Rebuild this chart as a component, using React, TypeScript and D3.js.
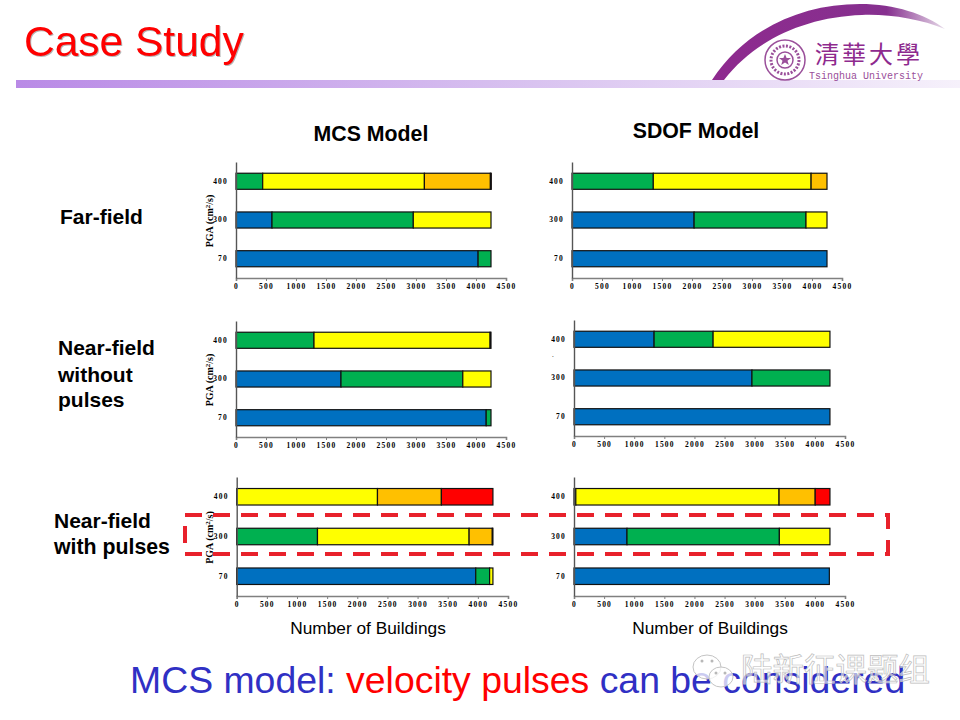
import React, { useEffect, useRef } from 'react'
import * as d3 from 'd3'

const rows = ['400', '300', '70']
const xTicks = [0, 500, 1000, 1500, 2000, 2500, 3000, 3500, 4000, 4500]
const stateColors = ['#0070c0', '#00b050', '#ffff00', '#ffc000', '#ff0000']

// building counts per damage state, one array per state, order follows rows
const mcsFar = [[0, 600, 4035], [445, 2355, 215], [2695, 1295, 0], [1100, 0, 0], [15, 0, 0]]
const sdofFar = [[0, 2035, 4250], [1355, 1865, 0], [2630, 350, 0], [265, 0, 0], [0, 0, 0]]
const mcsNear = [[0, 1750, 4170], [1300, 2030, 80], [2935, 470, 0], [15, 0, 0], [0, 0, 0]]
const sdofNear = [[1330, 2955, 4250], [980, 1295, 0], [1940, 0, 0], [0, 0, 0], [0, 0, 0]]
const mcsPulse = [[0, 0, 3965], [0, 1340, 230], [2335, 2515, 55], [1060, 385, 0], [855, 10, 0]]
const sdofPulse = [[0, 880, 4240], [30, 2530, 0], [3375, 840, 0], [600, 0, 0], [245, 0, 0]]

const panels = [
  { counts: mcsFar, left: 236, right: 506, top: 162, bottom: 278, yLabel: true },
  { counts: sdofFar, left: 572, right: 842, top: 162, bottom: 278, yLabel: false },
  { counts: mcsNear, left: 236, right: 506, top: 321, bottom: 437, yLabel: true },
  { counts: sdofNear, left: 574, right: 845, top: 320, bottom: 436, yLabel: false },
  { counts: mcsPulse, left: 236.7, right: 508, top: 477, bottom: 596, yLabel: true },
  { counts: sdofPulse, left: 574, right: 845, top: 477, bottom: 596, yLabel: false }
]

const SANS = '"Liberation Sans", Arial, sans-serif'
const SERIF = '"Liberation Serif", serif'

export default function App() {
  const chartRef = useRef<SVGGElement>(null)

  useEffect(() => {
    if (!chartRef.current) return
    const root = d3.select(chartRef.current)
    root.selectAll('*').remove() // Clear previous renders

    panels.forEach(p => {
      const g = root.append('g')
      const x = d3.scaleLinear().domain([0, 4500]).range([p.left, p.right])
      const y = d3.scaleBand().domain(rows).range([p.top, p.bottom]).paddingInner(0.585).paddingOuter(0.29)

      // stack the states along x
      const table = rows.map((r, i) => {
        const rec: Record<string, number | string> = { row: r }
        p.counts.forEach((c, s) => { rec['s' + s] = c[i] })
        return rec
      })
      const stack = d3.stack<any>().keys(p.counts.map((_, s) => 's' + s))(table)

      stack.forEach((layer, s) => {
        g.append('g')
          .selectAll('rect')
          .data(layer.filter(d => d[1] > d[0]))
          .join('rect')
          .attr('x', d => x(d[0]))
          .attr('y', d => y(d.data.row as string)!)
          .attr('width', d => x(d[1]) - x(d[0]))
          .attr('height', y.bandwidth())
          .attr('fill', stateColors[s])
          .attr('stroke', '#111')
          .attr('stroke-width', 1.2)
      })

      // x axis
      const xAxis = g.append('g')
        .attr('transform', `translate(0,${p.bottom})`)
        .call(d3.axisBottom(x).tickValues(xTicks).tickSizeOuter(0).tickSize(3).tickFormat(d3.format('d') as any))
      xAxis.select('.domain').attr('stroke', '#808080').attr('stroke-width', 1.6)
      xAxis.selectAll('.tick line').attr('stroke', '#808080')
      xAxis.selectAll('text')
        .attr('dy', 0).attr('y', 11)
        .style('font-family', SERIF).style('font-size', '7.5px').style('font-weight', 'bold')
        .style('letter-spacing', '1.2px').attr('fill', '#000')

      // y axis
      const yAxis = g.append('g')
        .attr('transform', `translate(${p.left},0)`)
        .call(d3.axisLeft(y).tickSize(0).tickPadding(8))
      yAxis.select('.domain').attr('stroke', '#555').attr('stroke-width', 1.4)
      yAxis.selectAll('text')
        .style('font-family', SERIF).style('font-size', '7.5px').style('font-weight', 'bold')
        .style('letter-spacing', '1.2px').attr('fill', '#000')

      if (p.yLabel) {
        const cy = (p.top + p.bottom) / 2 + 1
        const lab = g.append('text')
          .attr('transform', `translate(213,${cy}) rotate(-90)`)
          .attr('text-anchor', 'middle')
          .style('font-family', SERIF).style('font-size', '10px').style('font-weight', 'bold')
          .attr('fill', '#000')
        lab.append('tspan').text('PGA (cm')
        lab.append('tspan').text('2').attr('dy', -3).style('font-size', '7px')
        lab.append('tspan').text('/s)').attr('dy', 3)
      }
    })
  }, [])

  const heavy = { fontFamily: SANS, fontWeight: 'bold', fontSize: 21, fill: '#000' } as const

  return (
    <svg width={960} height={720} style={{ position: 'absolute', left: 0, top: 0, display: 'block', background: '#fff' }}>
      <defs>
        <linearGradient id="rule" x1="0" x2="1" y1="0" y2="0">
          <stop offset="0" stopColor="#b98ae6" />
          <stop offset="0.55" stopColor="#d9c3f0" />
          <stop offset="1" stopColor="#f6f1fb" />
        </linearGradient>
        <linearGradient id="arc" x1="0" x2="1" y1="0" y2="0">
          <stop offset="0" stopColor="#8e2a8e" />
          <stop offset="0.75" stopColor="#86308f" />
          <stop offset="1" stopColor="#e7dbe9" />
        </linearGradient>
      </defs>

      {/* header */}
      <text x={24} y={56} fontFamily={SANS} fontSize={42.5} fill="#ff0000" style={{ filter: 'drop-shadow(1.5px 1.5px 0.6px #b5b5b5)' }}>Case Study</text>
      <rect x={16} y={80} width={944} height={8} fill="url(#rule)" />

      {/* logo */}
      <path d="M712 80 C745 30 800 4 860 4 C895 4 925 14 945 29 C920 19 890 14 862 15 C805 17 755 40 724 80 Z" fill="url(#arc)" />
      <g fill="none" stroke="#9a4f9a">
        <circle cx={785} cy={60} r={20} strokeWidth={1.5} />
        <circle cx={785} cy={60} r={14} strokeWidth={3} strokeDasharray="2 1.5" />
        <circle cx={785} cy={60} r={8} strokeWidth={1.5} />
      </g>
      <path d="M785 54 L786.6 58 L791 58 L787.5 60.8 L788.8 65 L785 62.5 L781.2 65 L782.5 60.8 L779 58 L783.4 58 Z" fill="#9a4f9a" />
      <text x={815} y={63} fontFamily='"Noto Sans CJK TC", sans-serif' fontSize={24} letterSpacing={3} fill="#8e2a8e">清華大學</text>
      <text x={809} y={79} fontFamily='"Liberation Mono", monospace' fontSize={10} fill="#9a4f9a">Tsinghua University</text>

      {/* column titles */}
      <text x={371} y={141} textAnchor="middle" {...heavy} fontSize={21.3}>MCS Model</text>
      <text x={696} y={138} textAnchor="middle" {...heavy} fontSize={21.3}>SDOF Model</text>

      {/* row titles */}
      <text x={60} y={224} {...heavy}>Far-field</text>
      <text x={58} y={355} {...heavy}>Near-field</text>
      <text x={58} y={382} {...heavy}>without</text>
      <text x={58} y={407} {...heavy}>pulses</text>
      <text x={54} y={528} {...heavy}>Near-field</text>
      <text x={54} y={554} {...heavy} fontSize={21.3}>with pulses</text>

      <g ref={chartRef} />

      <text x={552} y={357} fontFamily={SERIF} fontSize={7} fill="#111">.</text>

      {/* highlight box */}
      <rect x={185} y={515} width={703} height={39} fill="none" stroke="#e8212b" strokeWidth={4} strokeDasharray="17 11" />

      <text x={368} y={634} textAnchor="middle" fontFamily={SANS} fontSize={17.3} fill="#000">Number of Buildings</text>
      <text x={710} y={634} textAnchor="middle" fontFamily={SANS} fontSize={17.3} fill="#000">Number of Buildings</text>

      {/* conclusion */}
      <text x={130} y={693} fontFamily={SANS} fontSize={37.4} fill="#3030c4">
        MCS model: <tspan fill="#ff0000">velocity pulses</tspan> can be considered
      </text>

      {/* watermark */}
      <g fill="#fff" fillOpacity={0.75} stroke="#c4c4c4" strokeWidth={1}>
        <ellipse cx={707} cy={667} rx={14} ry={12} />
        <ellipse cx={721} cy={677} rx={12} ry={10} />
      </g>
      <g fill="#b8b8b8">
        <circle cx={702} cy={661} r={1.5} />
        <circle cx={712} cy={661} r={1.5} />
        <circle cx={716} cy={673} r={1.5} />
        <circle cx={725} cy={673} r={1.5} />
      </g>
      <text x={741} y={681} fontFamily='"Noto Sans CJK SC", sans-serif' fontSize={31.5} fill="#fff" fillOpacity={0.6} stroke="#bdbdbd" strokeWidth={0.7}>陆新征课题组</text>
    </svg>
  )
}
